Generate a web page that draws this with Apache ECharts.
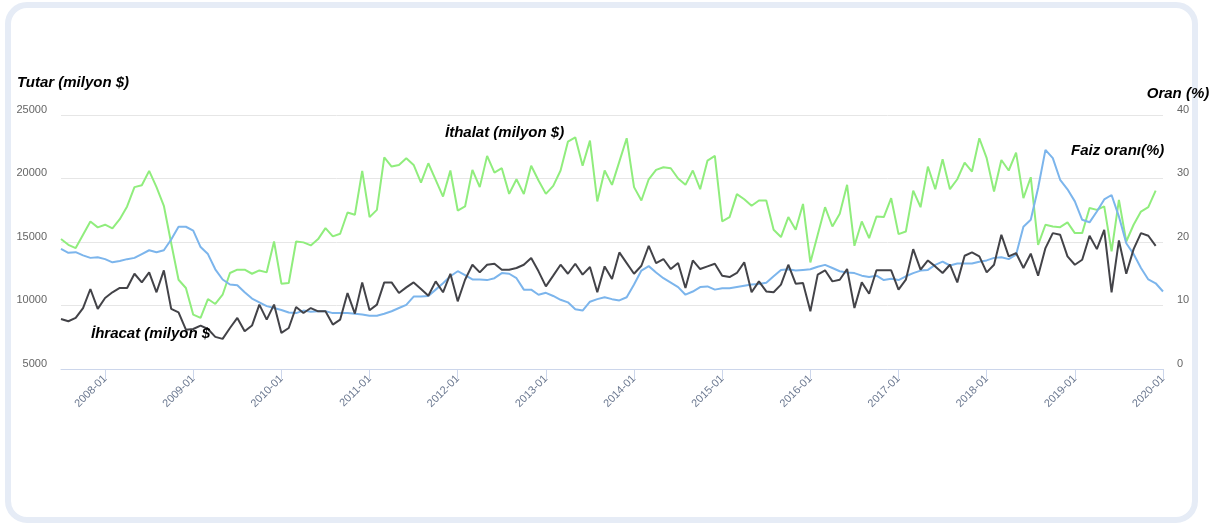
<!DOCTYPE html>
<html>
<head>
<meta charset="utf-8">
<script src="https://cdn.jsdelivr.net/npm/echarts@6/dist/echarts.min.js"></script>
<style>
  html, body { margin: 0; padding: 0; background: #fff; }
  #frame { position: absolute; left: 5px; top: 2px; width: 1181px; height: 509px; border: 6px solid #e6ecf6; border-radius: 22px; }
  #chart { position: absolute; left: 0; top: 0; width: 1227px; height: 524px; }
</style>
</head>
<body>
<div id="frame"></div>
<div id="chart"></div>
<script>
// monthly categories 2007-07 .. 2020-01
const months = [];
for (let k = 0; k < 151; k++) {
  const t = 2007 * 12 + 6 + k;
  months.push(Math.floor(t / 12) + '-' + String(t % 12 + 1).padStart(2, '0'));
}

// İthalat (milyon $)
const imports = [
  15230, 14780, 14520, 15570, 16610, 16150, 16360, 16070, 16800, 17800,
  19320, 19470, 20600, 19320, 17850, 14900, 12030, 11380, 9280, 9020,
  10510, 10120, 10850, 12560, 12820, 12820, 12500, 12760, 12610, 15040,
  11720, 11770, 15040, 14970, 14730, 15230, 16090, 15440, 15650, 17320,
  17140, 20600, 16960, 17530, 21670, 20940, 21070, 21600, 21070, 19680,
  21200, 19890, 18580, 20630, 17480, 17800, 20680, 19320, 21780, 20470,
  20810, 18790, 19940, 18770, 21000, 19840, 18790, 19420, 20630, 22900,
  23240, 21000, 22980, 18190, 20630, 19500, 21330, 23170, 19320, 18270,
  19940, 20680, 20890, 20810, 20000, 19500, 20630, 19160, 21410, 21780,
  16620, 16960, 18770, 18370, 17850, 18270, 18270, 15960, 15390, 16960,
  15960, 18000, 13390, 15570, 17740, 16220, 17220, 19500, 14700, 16620,
  15310, 17010, 16960, 18450, 15620, 15830, 19050, 17740, 20940, 19160,
  21520, 19160, 19940, 21250, 20550, 23170, 21600, 18980, 21460, 20630,
  22040, 18450, 20100, 14780, 16360, 16220, 16170, 16540, 15700, 15700,
  17670, 17530, 17800, 14260, 18320, 15040, 16360, 17400, 17740, 19050
];

// İhracat (milyon $)
const exports = [
  8940, 8760, 9020, 9800, 11300, 9730, 10590, 11040, 11380, 11380,
  12500, 11820, 12610, 11040, 12770, 9730, 9460, 8100, 8150, 8420,
  8150, 7530, 7370, 8230, 9020, 7970, 8420, 10070, 8890, 10070,
  7840, 8230, 9880, 9410, 9800, 9540, 9540, 8500, 8890, 10980,
  9360, 11820, 9620, 10070, 11820, 11820, 10980, 11430, 11820, 11300,
  10770, 11900, 11040, 12500, 10330, 12030, 13210, 12610, 13210, 13290,
  12820, 12820, 12950, 13210, 13740, 12690, 11510, 12350, 13210, 12500,
  13290, 12430, 13030, 11040, 13080, 12080, 14180, 13340, 12500, 13130,
  14700, 13340, 13660, 12870, 13340, 11380, 13550, 12870, 13080, 13290,
  12350, 12240, 12560, 13400, 11040, 11900, 11110, 11040, 11640, 13210,
  11720, 11770, 9540, 12430, 12770, 11900, 12030, 12870, 9800, 11820,
  10930, 12770, 12770, 12770, 11250, 12030, 14440, 12820, 13550, 13080,
  12560, 13210, 11820, 13920, 14180, 13870, 12610, 13210, 15570, 13870,
  14130, 12950, 14080, 12350, 14520, 15700, 15570, 13870, 13210, 13600,
  15490, 14440, 15960, 11040, 15120, 12500, 14440, 15700, 15490, 14700
];

// Faiz oranı (%)
const rate = [
  18.9, 18.3, 18.4, 17.9, 17.5, 17.6, 17.3, 16.8, 17.0, 17.3,
  17.5, 18.1, 18.7, 18.4, 18.7, 20.4, 22.4, 22.4, 21.8, 19.2,
  18.1, 15.7, 14.1, 13.3, 13.2, 12.1, 11.1, 10.5, 9.9, 9.6,
  9.3, 8.9, 8.8, 9.2, 9.0, 9.1, 9.1, 8.8, 8.8, 8.8,
  8.7, 8.6, 8.4, 8.4, 8.7, 9.1, 9.6, 10.1, 11.4, 11.4,
  11.5, 12.5, 13.5, 14.6, 15.4, 14.8, 14.1, 14.1, 14.0, 14.3,
  15.1, 15.0, 14.3, 12.5, 12.5, 11.7, 12.0, 11.5, 10.9, 10.5,
  9.4, 9.2, 10.6, 11.0, 11.3, 11.0, 10.8, 11.3, 13.3, 15.5,
  16.2, 15.2, 14.3, 13.6, 12.9, 11.7, 12.2, 12.9, 13.0, 12.5,
  12.7, 12.7, 12.9, 13.1, 13.3, 13.4, 13.6, 14.6, 15.6, 15.7,
  15.5, 15.6, 15.7, 16.1, 16.4, 15.9, 15.4, 15.2, 15.1, 14.7,
  14.5, 14.7, 14.0, 14.2, 14.0, 14.6, 15.1, 15.5, 15.6, 16.4,
  16.9, 16.3, 16.6, 16.6, 16.6, 16.9, 17.1, 17.5, 17.6, 17.3,
  18.0, 22.4, 23.5, 28.5, 34.5, 33.2, 29.8, 28.3, 26.4, 23.5,
  23.1, 24.8, 26.7, 27.4, 24.0, 19.8, 18.1, 15.9, 14.1, 13.5,
  12.2
];

const isJan = (idx, val) => val.slice(5) === '01';
const nameStyle = { color: '#000', fontSize: 15, fontWeight: 'bold', fontStyle: 'italic', fontFamily: 'Liberation Sans' };
const labelFont = 'Liberation Sans';
const tagFont = 'italic bold 15px "Liberation Sans"';

const chart = echarts.init(document.getElementById('chart'));
chart.setOption({
  animation: false,
  backgroundColor: 'transparent',
  grid: { left: 61, right: 64, top: 115, bottom: 155 },
  xAxis: {
    type: 'category',
    data: months,
    boundaryGap: false,
    axisLine: { lineStyle: { color: '#ccd6eb', width: 1 } },
    axisTick: { interval: isJan, length: 10, lineStyle: { color: '#ccd6eb' } },
    axisLabel: { interval: isJan, rotate: 45, color: '#6b7890', fontSize: 11, fontFamily: labelFont, margin: 8 },
    splitLine: { show: false }
  },
  yAxis: [
    {
      type: 'value',
      min: 5000, max: 25000, interval: 5000,
      name: 'Tutar (milyon $)',
      nameLocation: 'end',
      nameGap: 25,
      nameTextStyle: Object.assign({ padding: [0, 0, 0, 24] }, nameStyle),
      axisLine: { show: false },
      axisTick: { show: false },
      axisLabel: { color: '#666', fontSize: 11, fontFamily: labelFont, verticalAlign: 'bottom', margin: 14, formatter: v => String(v) },
      splitLine: { lineStyle: { color: '#e6e6e6' } }
    },
    {
      type: 'value',
      min: 0, max: 40, interval: 10,
      name: 'Oran (%)',
      nameLocation: 'end',
      nameGap: 14,
      nameTextStyle: Object.assign({ padding: [0, 0, 0, 30] }, nameStyle),
      axisLine: { show: false },
      axisTick: { show: false },
      axisLabel: { color: '#666', fontSize: 11, fontFamily: labelFont, verticalAlign: 'bottom', margin: 14 },
      splitLine: { show: false }
    }
  ],
  series: [
    {
      name: 'İthalat (milyon $)', type: 'line', data: imports, yAxisIndex: 0,
      symbol: 'none', lineStyle: { color: '#90ed7d', width: 2 }, itemStyle: { color: '#90ed7d' }
    },
    {
      name: 'Faiz oranı(%)', type: 'line', data: rate, yAxisIndex: 1,
      symbol: 'none', lineStyle: { color: '#7cb5ec', width: 2 }, itemStyle: { color: '#7cb5ec' }
    },
    {
      name: 'İhracat (milyon $)', type: 'line', data: exports, yAxisIndex: 0,
      symbol: 'none', lineStyle: { color: '#434348', width: 2 }, itemStyle: { color: '#434348' }
    }
  ],
  graphic: [
    { type: 'text', left: 445, top: 125, z: 100, style: { text: 'İthalat (milyon $)', fill: '#000', font: tagFont } },
    { type: 'text', left: 91, top: 326, z: 100, style: { text: 'İhracat (milyon $', fill: '#000', font: tagFont } },
    { type: 'text', left: 1071, top: 143, z: 100, style: { text: 'Faiz oranı(%)', fill: '#000', font: tagFont } }
  ]
});
</script>
</body>
</html>
